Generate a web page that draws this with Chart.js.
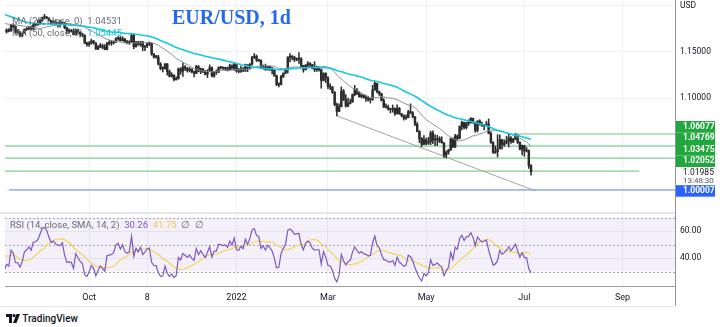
<!DOCTYPE html>
<html>
<head>
<meta charset="utf-8">
<script src="https://cdn.jsdelivr.net/npm/chart.js"></script>
<style>
  body { margin: 0; background: #fff; }
  #wrap { position: relative; width: 722px; height: 327px; overflow: hidden; background: #fff;
          font-family: Roboto, "Noto Sans", sans-serif; }
  .abs { position: absolute; white-space: nowrap; }
  .title { left: 172px; top: 6px; font: bold 20px "Liberation Serif", serif; color: #2468f2; }
  .legend { font-size: 9.5px; color: #6a6d78; line-height: 11px; }
  .logo { left: 6px; top: 313px; font-size: 10px; font-weight: 500; color: #131722; }
</style>
</head>
<body>
<div id="wrap">
  <canvas id="priceChart" class="abs" width="722" height="212" style="left:0;top:0"></canvas>
  <canvas id="rsiChart" class="abs" width="722" height="92" style="left:0;top:214px"></canvas>

  <div class="abs" style="left:0;top:212px;width:675px;height:2px;background:#e3e5ea"></div>
  <div class="abs" style="left:675px;top:0;width:1px;height:306px;background:#8f9299"></div>
  <div class="abs" style="left:0;top:306px;width:675px;height:1px;background:#e6e8ec"></div>

  <div class="abs title">EUR/USD, 1d</div>
  <div class="abs legend" style="left:12px;top:15px">MA (20, close, 0)&nbsp; <span>1.04531</span></div>
  <div class="abs legend" style="left:12px;top:27px">MA (50, close, 0)&nbsp; <span style="color:#14c8de">1.05445</span></div>
  <div class="abs legend" style="left:10px;top:219px">RSI (14, close, SMA, 14, 2)&nbsp; <span style="color:#7e57c2">30.26</span>&nbsp; <span style="color:#f2c94c">41.75</span>&nbsp; ∅&nbsp; ∅</div>

  <div class="abs logo">
    <svg width="14" height="9" viewBox="0 0 14 9" style="vertical-align:-1px">
      <path d="M0 0h6v9H3V3H0z" fill="#131722"/>
      <circle cx="8" cy="1.6" r="1.6" fill="#131722"/>
      <path d="M10.5 0H14L10.5 9H7z" fill="#131722"/>
    </svg>
    TradingView
  </div>
</div>

<script>
// closes before the first drawn bar (Jun 1 - Aug 10 2021), only used to seed the averages and RSI
const warmupCloses = [
  1.2213, 1.2212, 1.2127, 1.2166, 1.2191, 1.2172, 1.2177, 1.2173, 1.2107, 1.2120, 1.2125,
  1.1995, 1.1906, 1.1860, 1.1917, 1.1941, 1.1927, 1.1930, 1.1937, 1.1925, 1.1897, 1.1858,
  1.1847, 1.1865, 1.1866, 1.1823, 1.1792, 1.1844, 1.1875, 1.1861, 1.1776, 1.1837, 1.1812,
  1.1806, 1.1800, 1.1783, 1.1791, 1.1772, 1.1771, 1.1801, 1.1816, 1.1843, 1.1887, 1.1870,
  1.1869, 1.1870, 1.1835, 1.1835, 1.1761, 1.1735, 1.1718
];

// daily bars, Aug 11 2021 - Jul 6 2022 (bar index 0..235)
const closes = [
  1.1740, 1.1728, 1.1795, 1.1778, 1.1713, 1.1711, 1.1677, 1.1700, 1.1746, 1.1757, 1.1771, 1.1753, 1.1795, 1.1797, 1.1807,
  1.1839, 1.1875, 1.1880, 1.1869, 1.1841, 1.1818, 1.1825, 1.1813, 1.1808, 1.1806, 1.1817, 1.1765, 1.1725, 1.1727, 1.1724, 1.1689, 1.1741, 1.1718, 1.1697, 1.1683, 1.1598, 1.1579,
  1.1596, 1.1620, 1.1598, 1.1532, 1.1552, 1.1570, 1.1552, 1.1528, 1.1594, 1.1597, 1.1600, 1.1608, 1.1644, 1.1652, 1.1623, 1.1643, 1.1608, 1.1599, 1.1605, 1.1681, 1.1558,
  1.1607, 1.1580, 1.1610, 1.1554, 1.1568, 1.1589, 1.1593, 1.1480, 1.1447, 1.1445, 1.1368, 1.1319, 1.1320, 1.1371, 1.1287, 1.1236, 1.1250, 1.1199, 1.1210, 1.1317, 1.1292, 1.1338,
  1.1320, 1.1300, 1.1315, 1.1285, 1.1267, 1.1342, 1.1290, 1.1317, 1.1285, 1.1258, 1.1290, 1.1330, 1.1239, 1.1282, 1.1281, 1.1330, 1.1329, 1.1321, 1.1326, 1.1310, 1.1349, 1.1325, 1.1372,
  1.1295, 1.1289, 1.1314, 1.1297, 1.1360, 1.1326, 1.1368, 1.1442, 1.1454, 1.1413, 1.1407, 1.1325, 1.1343, 1.1310, 1.1343, 1.1326, 1.1301, 1.1242, 1.1144, 1.1147, 1.1234,
  1.1270, 1.1305, 1.1440, 1.1454, 1.1441, 1.1417, 1.1423, 1.1425, 1.1349, 1.1306, 1.1357, 1.1374, 1.1360, 1.1321, 1.1307, 1.1309, 1.1309, 1.1191, 1.1270, 1.1219,
  1.1126, 1.1119, 1.1063, 1.0928, 1.0855, 1.0904, 1.1075, 1.0983, 1.0913, 1.0942, 1.0955, 1.1036, 1.1092, 1.1050, 1.1015, 1.1031, 1.1006, 1.0998, 1.0982, 1.0985, 1.1088, 1.1159, 1.1067,
  1.1046, 1.0971, 1.0905, 1.0900, 1.0880, 1.0876, 1.0886, 1.0831, 1.0888, 1.0828, 1.0809, 1.0780, 1.0786, 1.0852, 1.0838, 1.0796, 1.0716, 1.0637, 1.0557, 1.0497, 1.0545,
  1.0508, 1.0525, 1.0620, 1.0542, 1.0550, 1.0560, 1.0530, 1.0512, 1.0379, 1.0412, 1.0436, 1.0554, 1.0465, 1.0587, 1.0560, 1.0691, 1.0735, 1.0677, 1.0725, 1.0731, 1.0779, 1.0733,
  1.0648, 1.0750, 1.0720, 1.0700, 1.0706, 1.0717, 1.0616, 1.0518, 1.0408, 1.0418, 1.0446, 1.0547, 1.0494, 1.0510, 1.0533, 1.0566, 1.0524, 1.0552, 1.0585, 1.0519, 1.0444, 1.0484,
  1.0425, 1.0424, 1.0265, 1.01985
];
const highs = [
  1.1753, 1.1754, 1.1802, 1.1805, 1.1786, 1.1744, 1.1726, 1.1707, 1.1752, 1.1764, 1.1782, 1.1780, 1.1806, 1.1810, 1.1846,
  1.1857, 1.1880, 1.1909, 1.1885, 1.1871, 1.1845, 1.1845, 1.1850, 1.1818, 1.1846, 1.1830, 1.1820, 1.1771, 1.1752, 1.1746, 1.1753, 1.1751, 1.1750, 1.1717, 1.1703, 1.1686, 1.1607,
  1.1613, 1.1640, 1.1625, 1.1603, 1.1572, 1.1594, 1.1586, 1.1580, 1.1604, 1.1624, 1.1625, 1.1619, 1.1657, 1.1667, 1.1668, 1.1666, 1.1647, 1.1626, 1.1622, 1.1692, 1.1692,
  1.1616, 1.1617, 1.1616, 1.1616, 1.1570, 1.1594, 1.1609, 1.1600, 1.1484, 1.1465, 1.1464, 1.1385, 1.1339, 1.1374, 1.1374, 1.1303, 1.1274, 1.1251, 1.1229, 1.1325, 1.1330, 1.1383,
  1.1352, 1.1334, 1.1333, 1.1317, 1.1292, 1.1355, 1.1353, 1.1325, 1.1319, 1.1301, 1.1308, 1.1360, 1.1340, 1.1290, 1.1305, 1.1338, 1.1344, 1.1340, 1.1335, 1.1335, 1.1369, 1.1360, 1.1386,
  1.1375, 1.1323, 1.1347, 1.1332, 1.1368, 1.1362, 1.1375, 1.1452, 1.1483, 1.1467, 1.1422, 1.1416, 1.1359, 1.1369, 1.1347, 1.1346, 1.1330, 1.1313, 1.1248, 1.1165, 1.1246,
  1.1273, 1.1320, 1.1450, 1.1484, 1.1462, 1.1455, 1.1436, 1.1495, 1.1440, 1.1356, 1.1364, 1.1395, 1.1385, 1.1367, 1.1395, 1.1347, 1.1342, 1.1314, 1.1274, 1.1273,
  1.1234, 1.1153, 1.1124, 1.1070, 1.0946, 1.0937, 1.1121, 1.1093, 1.1037, 1.0999, 1.0987, 1.1044, 1.1137, 1.1102, 1.1070, 1.1045, 1.1037, 1.1028, 1.1018, 1.0997, 1.1138, 1.1185, 1.1162,
  1.1076, 1.1053, 1.0994, 1.0936, 1.0922, 1.0885, 1.0924, 1.0892, 1.0925, 1.0898, 1.0833, 1.0817, 1.0816, 1.0867, 1.0936, 1.0852, 1.0798, 1.0733, 1.0645, 1.0570, 1.0592,
  1.0565, 1.0573, 1.0641, 1.0642, 1.0600, 1.0594, 1.0580, 1.0578, 1.0515, 1.0423, 1.0443, 1.0563, 1.0566, 1.0605, 1.0600, 1.0697, 1.0749, 1.0737, 1.0737, 1.0764, 1.0787, 1.0782,
  1.0737, 1.0752, 1.0764, 1.0737, 1.0713, 1.0748, 1.0773, 1.0632, 1.0525, 1.0478, 1.0602, 1.0601, 1.0550, 1.0546, 1.0583, 1.0606, 1.0581, 1.0561, 1.0615, 1.0606, 1.0524, 1.0488,
  1.0486, 1.0462, 1.0436, 1.0276
];
const lows = [
  1.1706, 1.1717, 1.1727, 1.1758, 1.1702, 1.1695, 1.1665, 1.1664, 1.1699, 1.1734, 1.1741, 1.1737, 1.1735, 1.1779, 1.1790,
  1.1800, 1.1834, 1.1857, 1.1860, 1.1834, 1.1801, 1.1803, 1.1808, 1.1771, 1.1770, 1.1802, 1.1752, 1.1701, 1.1701, 1.1716, 1.1684, 1.1686, 1.1701, 1.1668, 1.1664, 1.1591, 1.1563,
  1.1562, 1.1586, 1.1586, 1.1529, 1.1526, 1.1548, 1.1536, 1.1524, 1.1522, 1.1576, 1.1572, 1.1586, 1.1605, 1.1629, 1.1619, 1.1619, 1.1602, 1.1587, 1.1583, 1.1601, 1.1535,
  1.1552, 1.1572, 1.1562, 1.1513, 1.1514, 1.1547, 1.1570, 1.1464, 1.1432, 1.1434, 1.1360, 1.1306, 1.1283, 1.1313, 1.1248, 1.1229, 1.1226, 1.1186, 1.1193, 1.1204, 1.1258, 1.1235,
  1.1296, 1.1282, 1.1283, 1.1273, 1.1228, 1.1263, 1.1283, 1.1264, 1.1274, 1.1252, 1.1222, 1.1288, 1.1230, 1.1224, 1.1256, 1.1275, 1.1316, 1.1312, 1.1300, 1.1293, 1.1300, 1.1310, 1.1300,
  1.1280, 1.1272, 1.1277, 1.1285, 1.1287, 1.1286, 1.1314, 1.1358, 1.1429, 1.1395, 1.1397, 1.1318, 1.1313, 1.1300, 1.1302, 1.1297, 1.1263, 1.1235, 1.1133, 1.1121, 1.1141,
  1.1222, 1.1262, 1.1271, 1.1392, 1.1414, 1.1395, 1.1405, 1.1377, 1.1339, 1.1280, 1.1305, 1.1327, 1.1341, 1.1318, 1.1287, 1.1288, 1.1291, 1.1106, 1.1184, 1.1168,
  1.1101, 1.1090, 1.1051, 1.0915, 1.0806, 1.0851, 1.0905, 1.0971, 1.0901, 1.0906, 1.0935, 1.0955, 1.1023, 1.1035, 1.1008, 1.1001, 1.0998, 1.0964, 1.0966, 1.0945, 1.0973, 1.1084, 1.1055,
  1.1029, 1.0968, 1.0895, 1.0890, 1.0869, 1.0838, 1.0846, 1.0810, 1.0823, 1.0822, 1.0795, 1.0760, 1.0768, 1.0788, 1.0828, 1.0784, 1.0699, 1.0632, 1.0514, 1.0471, 1.0493,
  1.0490, 1.0495, 1.0492, 1.0503, 1.0482, 1.0484, 1.0515, 1.0510, 1.0354, 1.0350, 1.0388, 1.0430, 1.0462, 1.0464, 1.0542, 1.0557, 1.0654, 1.0664, 1.0663, 1.0700, 1.0726, 1.0724,
  1.0628, 1.0630, 1.0706, 1.0690, 1.0654, 1.0693, 1.0610, 1.0505, 1.0397, 1.0397, 1.0359, 1.0450, 1.0444, 1.0474, 1.0500, 1.0467, 1.0505, 1.0515, 1.0548, 1.0505, 1.0436, 1.0382,
  1.0366, 1.0413, 1.0234, 1.0162
];

// time axis: bar index of each label
const tickIndex = [37, 63, 103, 144, 188, 232, 276];
const tickText = ['Oct', '8', '2022', 'Mar', 'May', 'Jul', 'Sep'];

const priceTicks = [1.20, 1.15, 1.10, 1.05, 1.00];
const priceTickText = ['USD', '1.15000', '1.10000', '', ''];

// horizontal levels (value, first bar, last bar)
const levelValues = [1.06077, 1.04769, 1.03475, 1.02052];
const levelFrom = [228, -1, -1, -1];
const levelTo = [301, 301, 301, 283.5];
const supportValue = 1.00007;

// falling trend line from the March low
const trendX = [148, 237];
const trendY = [1.0806, 0.9990];

const rsiTicks = [40, 60];
const rsiBands = [70, 50, 30];

const allCloses = warmupCloses.concat(closes);
const off = warmupCloses.length;
const opens = closes.map((c, i) => allCloses[off + i - 1]);

function sma(vals, n) {
  return vals.map((v, i) => {
    const win = vals.slice(Math.max(0, i - n + 1), i + 1);
    return win.reduce((a, b) => a + b, 0) / win.length;
  });
}

function rsi(vals, n) {
  const out = [];
  let ag = 0, al = 0;
  for (let i = 1; i < vals.length; i++) {
    const ch = vals[i] - vals[i - 1];
    const k = Math.min(i, n);
    ag += (Math.max(ch, 0) - ag) / k;
    al += (Math.max(-ch, 0) - al) / k;
    out.push(al === 0 ? 100 : 100 - 100 / (1 + ag / al));
  }
  return out;
}

const toPts = (vals, shift) => vals.map((v, i) => ({ x: i - shift, y: v }));
const ma20 = toPts(sma(allCloses, 20), off);
const ma50 = toPts(sma(allCloses, 50), off);
const rsiVals = rsi(allCloses, 14);
const rsiPts = toPts(rsiVals, off - 1);
const rsiSmaPts = toPts(sma(rsiVals, 14), off - 1);

const X_MIN = -0.7, X_MAX = 299.5;
const gridColor = '#eef1f6';

// keep tick labels from shrinking the plot area
const noPad = s => { s.paddingTop = 0; s.paddingBottom = 0; s.paddingLeft = 0; s.paddingRight = 0; };

const xTicks = {
  type: 'linear', min: X_MIN, max: X_MAX, offset: false,
  afterBuildTicks: s => { s.ticks = tickIndex.map(v => ({ value: v })); },
  grid: { color: gridColor, drawTicks: false, offset: false },
  border: { display: false }
};

// price tags on the right axis, pushed upward so they do not overlap
const tagPlugin = {
  id: 'priceTags',
  afterDraw(chart) {
    const { ctx, chartArea: a, scales: { y } } = chart;
    const last = closes[closes.length - 1];
    const lastY = y.getPixelForValue(last) + 1;
    ctx.save();
    ctx.textBaseline = 'middle';
    ctx.textAlign = 'left';
    ctx.font = '8.5px Roboto';
    ctx.fillStyle = '#131722';
    ctx.fillText(last.toFixed(5), a.right + 8, lastY);
    ctx.fillStyle = '#50535e';
    ctx.font = '8px Roboto';
    ctx.fillText('13:48:30', a.right + 8, lastY + 8);

    const h = 11.5;
    let limit = lastY - h;
    ctx.font = 'bold 8.5px Roboto';
    levelValues.slice().sort((p, q) => p - q).forEach(v => {
      const cy = Math.min(y.getPixelForValue(v), limit);
      ctx.fillStyle = '#21a83c';
      ctx.fillRect(a.right, cy - h / 2, 40, h);
      ctx.fillStyle = '#fff';
      ctx.fillText(v.toFixed(5), a.right + 8, cy);
      limit = cy - h;
    });
    const sy = y.getPixelForValue(supportValue);
    ctx.fillStyle = '#2962ff';
    ctx.fillRect(a.right, sy - h / 2 + 1, 40, h);
    ctx.fillStyle = '#fff';
    ctx.fillText(supportValue.toFixed(5), a.right + 8, sy + 1);
    ctx.restore();
  }
};

const candleColor = '#2b2b2b';
const levelSets = levelValues.map((v, i) => ({
  type: 'line',
  data: [{ x: levelFrom[i], y: v }, { x: levelTo[i], y: v }],
  borderColor: i === 0 ? '#b5e3c0' : '#7fcd91',
  borderWidth: i === 0 ? 2 : 1.2,
  pointRadius: 0, order: 10
}));

new Chart(document.getElementById('priceChart'), {
  type: 'line',
  data: {
    datasets: [
      { type: 'line', data: ma50, borderColor: '#14c8de', borderWidth: 1.6, pointRadius: 0, order: 1 },
      { type: 'line', data: ma20, borderColor: '#8a8d94', borderWidth: 1, pointRadius: 0, order: 2 },
      {
        type: 'bar', data: closes.map((c, i) => ({ x: i, y: [opens[i], c] })),
        backgroundColor: candleColor, grouped: false, barPercentage: 1, categoryPercentage: 1,
        maxBarThickness: 1.8, minBarLength: 1, order: 4
      },
      {
        type: 'bar', data: closes.map((c, i) => ({ x: i, y: [lows[i], highs[i]] })),
        backgroundColor: candleColor, grouped: false, barPercentage: 1, categoryPercentage: 1,
        maxBarThickness: 0.9, order: 5
      },
      {
        type: 'line', data: trendX.map((x, i) => ({ x, y: trendY[i] })),
        borderColor: '#a3a3a3', borderWidth: 1, pointRadius: 0, order: 9
      },
      {
        type: 'line', data: [{ x: 1.1, y: supportValue }, { x: 301, y: supportValue }],
        borderColor: '#77a1ee', borderWidth: 1.2, pointRadius: 0, order: 10
      },
      ...levelSets
    ]
  },
  options: {
    responsive: false, animation: false,
    layout: { padding: { left: 5, right: 0, top: 0, bottom: 0 } },
    plugins: { legend: { display: false }, tooltip: { enabled: false } },
    scales: {
      x: Object.assign({}, xTicks, {
        ticks: { display: false },
        afterFit: s => { s.height = 0; noPad(s); }
      }),
      y: {
        position: 'right', min: 0.97609, max: 1.20652,
        afterBuildTicks: s => { s.ticks = priceTicks.map(v => ({ value: v })); },
        afterFit: s => { s.width = 47; noPad(s); },
        grid: { color: gridColor, drawTicks: false },
        border: { display: false },
        ticks: {
          padding: 5, color: '#131722', font: { size: 8.5, family: 'Roboto' },
          callback: v => priceTickText[priceTicks.indexOf(v)]
        }
      }
    }
  },
  plugins: [tagPlugin]
});

// shaded 70-30 band with dashed guide lines
const rsiBandPlugin = {
  id: 'rsiBand',
  beforeDatasetsDraw(chart) {
    const { ctx, chartArea: a, scales: { y } } = chart;
    const top = y.getPixelForValue(rsiBands[0]);
    const bot = y.getPixelForValue(rsiBands[rsiBands.length - 1]);
    ctx.save();
    ctx.fillStyle = 'rgba(126, 87, 194, 0.09)';
    ctx.fillRect(a.left, top, a.right - a.left, bot - top);
    ctx.strokeStyle = '#a6a8b0';
    ctx.lineWidth = 1;
    ctx.setLineDash([2, 2]);
    rsiBands.forEach(v => {
      const py = Math.round(y.getPixelForValue(v)) + 0.5;
      ctx.beginPath();
      ctx.moveTo(a.left, py);
      ctx.lineTo(a.right, py);
      ctx.stroke();
    });
    ctx.restore();
  }
};

new Chart(document.getElementById('rsiChart'), {
  type: 'line',
  data: {
    datasets: [
      { data: rsiPts, borderColor: '#7e57c2', borderWidth: 1.2, pointRadius: 0, order: 1 },
      { data: rsiSmaPts, borderColor: '#f7d358', borderWidth: 1.2, pointRadius: 0, order: 2 }
    ]
  },
  options: {
    responsive: false, animation: false,
    layout: { padding: { left: 5, right: 0, top: 0, bottom: 0 } },
    plugins: { legend: { display: false }, tooltip: { enabled: false } },
    scales: {
      x: Object.assign({}, xTicks, {
        border: { display: true, color: '#9a9da5' },
        afterFit: s => { s.height = 20; noPad(s); },
        ticks: {
          autoSkip: false, maxRotation: 0, padding: 6, color: '#131722',
          font: { size: 9, family: 'Roboto' },
          callback: v => tickText[tickIndex.indexOf(v)]
        }
      }),
      y: {
        position: 'right', min: 19.26, max: 72.6,
        afterBuildTicks: s => { s.ticks = rsiTicks.map(v => ({ value: v })); },
        afterFit: s => { s.width = 47; noPad(s); },
        grid: { color: gridColor, drawTicks: false },
        border: { display: false },
        ticks: {
          padding: 5, color: '#131722', font: { size: 8.5, family: 'Roboto' },
          callback: v => v.toFixed(2)
        }
      }
    }
  },
  plugins: [rsiBandPlugin]
});
</script>
</body>
</html>
